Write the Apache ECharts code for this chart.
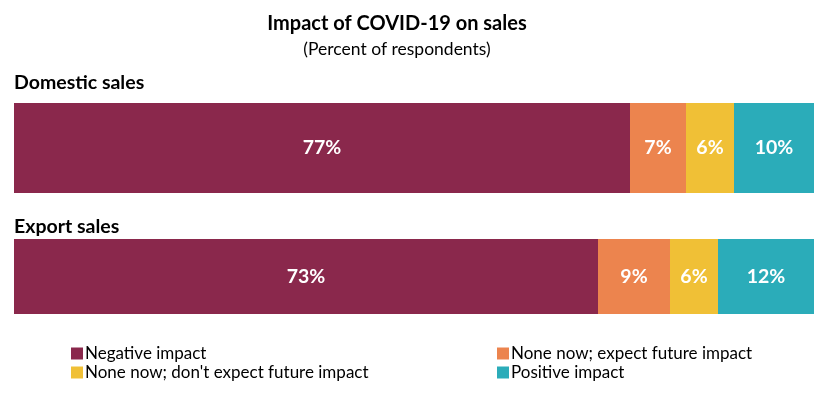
<!DOCTYPE html>
<html><head><meta charset="utf-8">
<script src="https://cdn.jsdelivr.net/npm/echarts@6/dist/echarts.min.js"></script>
<style>html,body{margin:0;padding:0;background:#fff}#c{width:828px;height:393px}</style>
</head><body><div id="c"></div>
<script>
const groups = ['Domestic sales', 'Export sales'];
const seriesNames = ['Negative impact', 'None now; expect future impact', "None now; don't expect future impact", 'Positive impact'];
const domestic = [77, 7, 6, 10];
const exportSales = [73, 9, 6, 12];
const colors = ['#8A284C', '#EC844E', '#F0C036', '#2BACB9'];
const FONT = 'Lato';

const chart = echarts.init(document.getElementById('c'));
const grids = [
  {left: 14, width: 800, top: 103, height: 90},
  {left: 14, width: 800, top: 239, height: 75}
];
const dataSets = [domestic, exportSales];
const series = [];
dataSets.forEach((vals, gi) => {
  vals.forEach((v, si) => {
    series.push({
      name: seriesNames[si], type: 'bar', stack: 'g' + gi,
      xAxisIndex: gi, yAxisIndex: gi, barWidth: '100%',
      itemStyle: {color: colors[si]},
      label: {show: true, position: 'inside', formatter: '{c}%', color: '#fff',
        fontFamily: FONT, fontWeight: 'bold', fontSize: 19.5},
      data: [v]
    });
  });
});
chart.setOption({
  animation: false,
  color: colors,
  title: [
    {text: 'Impact of COVID-19 on sales', left: 392, textAlign: 'center', top: 9,
      textStyle: {fontFamily: FONT, fontWeight: 'bold', fontSize: 20, color: '#000'}},
    {text: '(Percent of respondents)', left: 392, textAlign: 'center', top: 35,
      textStyle: {fontFamily: FONT, fontWeight: 'normal', fontSize: 17.5, color: '#000'}},
    {text: groups[0], left: 9, top: 68,
      textStyle: {fontFamily: FONT, fontWeight: 'bold', fontSize: 19.5, color: '#000'}},
    {text: groups[1], left: 9, top: 212,
      textStyle: {fontFamily: FONT, fontWeight: 'bold', fontSize: 19.5, color: '#000'}}
  ],
  legend: [
    {data: [seriesNames[0], seriesNames[2]], orient: 'vertical', left: 66, top: 340,
      itemWidth: 12, itemHeight: 12, itemGap: 2, icon: 'rect',
      textStyle: {fontFamily: FONT, fontSize: 17, color: '#000', padding: [0,0,0,-3]}},
    {data: [seriesNames[1], seriesNames[3]], orient: 'vertical', left: 492, top: 340,
      itemWidth: 12, itemHeight: 12, itemGap: 2, icon: 'rect',
      textStyle: {fontFamily: FONT, fontSize: 17, color: '#000', padding: [0,0,0,-3]}}
  ],
  grid: grids,
  xAxis: grids.map((g, i) => ({type: 'value', gridIndex: i, min: 0, max: 100, show: false})),
  yAxis: grids.map((g, i) => ({type: 'category', gridIndex: i, data: [groups[i]], show: false})),
  series: series
});
</script></body></html>
